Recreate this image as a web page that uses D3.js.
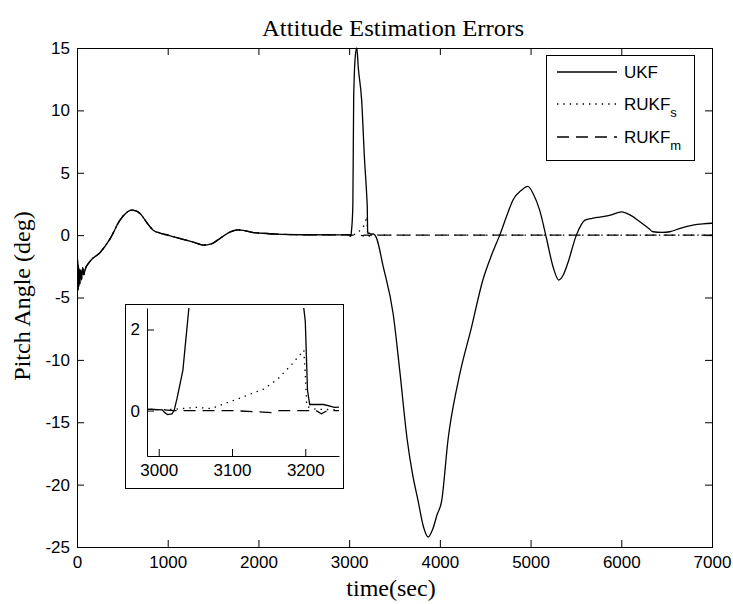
<!DOCTYPE html>
<meta charset="utf-8">
<script src="https://cdnjs.cloudflare.com/ajax/libs/d3/7.8.5/d3.min.js"></script>
<style>
body { margin: 0; background: #fff; }
svg { display: block; }
.tick text { font-family: "Liberation Sans", Arial, sans-serif; font-size: 17px; fill: #000; }
.tick line { stroke: #000; }
.lab { font-family: "Liberation Serif", "Times New Roman", serif; font-size: 24px; fill: #000; }
.leg { font-family: "Liberation Sans", Arial, sans-serif; font-size: 17px; fill: #000; }
path.line { fill: none; stroke: #000; stroke-width: 1.3px; }
.dotted { stroke-dasharray: 1.4, 5; }
.dashed { stroke-dasharray: 12, 7; }
</style>
<body>
<script>

// Pitch angle error (deg) vs time (sec).
// All three filters track each other until the fault at ~3000 s.
var earlyPart = [
  [0, -1.5], [4, -4.6], [8, -2.0], [12, -4.4], [16, -2.4], [20, -4.1], [25, -2.7],
  [30, -3.9], [40, -2.8], [50, -3.6], [62, -2.6], [75, -3.2], [88, -2.8], [143, -2.1],
  [254, -1.4], [364, -0.3], [474, 1.2], [530, 1.7], [600, 2.0], [650, 1.95],
  [700, 1.7], [770, 1.0], [840, 0.4], [920, 0.15], [1000, 0.0], [1100, -0.2],
  [1200, -0.4], [1300, -0.6], [1390, -0.8], [1480, -0.7], [1560, -0.35], [1650, 0.1],
  [1720, 0.35], [1780, 0.42], [1850, 0.35], [1950, 0.2], [2050, 0.15], [2200, 0.08],
  [2500, 0.03], [2900, 0.02], [2990, 0.03], [3005, 0.02]
];

var ukfTail = [
  [3008, -0.05], [3012, -0.1], [3018, -0.08], [3021, 0.0], [3025, 0.3], [3033, 1.0],
  [3041, 2.5], [3050, 11.0], [3070, 14.5], [3085, 15.0], [3100, 13.5], [3138, 10.8],
  [3170, 6.0], [3195, 3.0], [3200, 2.2], [3203, 0.5], [3206, 0.15], [3225, 0.15],
  [3240, 0.08], [3264, 0.1], [3300, -0.2], [3375, -2.5], [3485, -6.3], [3560, -11.0],
  [3640, -16.4], [3700, -19.2], [3760, -21.3], [3820, -23.4], [3870, -24.2],
  [3920, -23.6], [3970, -22.4], [4020, -21.3], [4090, -16.4], [4200, -11.8],
  [4350, -7.35], [4474, -3.6], [4570, -1.6], [4660, 0.0], [4750, 1.8], [4805, 2.8],
  [4900, 3.6], [4970, 3.9], [5030, 3.3], [5100, 2.0], [5175, -0.25], [5250, -2.6],
  [5310, -3.6], [5360, -3.2], [5410, -2.25], [5505, 0.0], [5600, 1.2], [5680, 1.35],
  [5765, 1.45], [5880, 1.6], [6003, 1.87], [6100, 1.6], [6205, 1.07], [6300, 0.55],
  [6350, 0.27], [6450, 0.22], [6535, 0.27], [6650, 0.55], [6790, 0.8], [6900, 0.9],
  [7000, 0.95]
];

var rukfsTail = [
  [3020, 0.03], [3050, 0.08], [3072, 0.05], [3099, 0.23], [3111, 0.31], [3143, 0.53],
  [3162, 0.77], [3182, 1.15], [3198, 1.49], [3200, 0.9], [3202, 0.1], [3215, 0.03],
  [3300, 0.01], [4000, 0.0], [5000, 0.0], [6000, 0.0], [7000, 0.0]
];

var rukfmTail = [
  [3020, 0.0], [3100, 0.0], [3155, -0.05], [3165, 0.0], [3215, 0.0], [3222, -0.08],
  [3230, 0.0], [4000, 0.0], [5000, 0.0], [6000, 0.0], [7000, 0.0]
];

var xTicks = [0, 1000, 2000, 3000, 4000, 5000, 6000, 7000];
var yTicks = [-25, -20, -15, -10, -5, 0, 5, 10, 15];
var insetXTicks = [3000, 3100, 3200];
var insetYTicks = [0, 2];

var series = [
  { name: "UKF", sub: "", cls: "solid", values: earlyPart.concat(ukfTail) },
  { name: "RUKF", sub: "s", cls: "dotted", values: earlyPart.concat(rukfsTail) },
  { name: "RUKF", sub: "m", cls: "dashed", values: earlyPart.concat(rukfmTail) }
];

var width = 733, height = 604;
var svg = d3.select("body").append("svg")
    .attr("width", width)
    .attr("height", height);

// main axes box
var mLeft = 77, mRight = 712, mTop = 48, mBottom = 547;
// plain hyphen minus, like the original
var fmt = function(d) { return String(d); };

var x = d3.scaleLinear().domain([0, 7000]).range([mLeft, mRight]);
var y = d3.scaleLinear().domain([-25, 15]).range([mBottom, mTop]);

var defs = svg.append("defs");
defs.append("clipPath").attr("id", "mainClip")
  .append("rect")
    .attr("x", mLeft).attr("y", mTop - 1)
    .attr("width", mRight - mLeft).attr("height", mBottom - mTop + 2);

svg.append("g").attr("transform", "translate(0," + mBottom + ")")
    .call(d3.axisBottom(x).tickValues(xTicks).tickFormat(fmt).tickSize(-7).tickPadding(9));
svg.append("g").attr("transform", "translate(0," + mTop + ")")
    .call(d3.axisTop(x).tickValues(xTicks).tickSize(-7).tickFormat(""));
svg.append("g").attr("transform", "translate(" + mLeft + ",0)")
    .call(d3.axisLeft(y).tickValues(yTicks).tickFormat(fmt).tickSize(-7).tickPadding(7));
svg.append("g").attr("transform", "translate(" + mRight + ",0)")
    .call(d3.axisRight(y).tickValues(yTicks).tickSize(-7).tickFormat(""));
svg.selectAll(".domain").remove();

svg.append("rect")
    .attr("x", mLeft + 0.5).attr("y", mTop + 0.5)
    .attr("width", mRight - mLeft).attr("height", mBottom - mTop)
    .attr("fill", "none").attr("stroke", "#000");

var line = d3.line()
    .curve(d3.curveMonotoneX)
    .x(function(d) { return x(d[0]); })
    .y(function(d) { return y(d[1]); });

svg.append("g").attr("clip-path", "url(#mainClip)")
  .selectAll("path")
    .data(series)
  .enter().append("path")
    .attr("class", function(d) { return "line " + d.cls; })
    .attr("d", function(d) { return line(d.values); });

// title and labels
svg.append("text").attr("class", "lab")
    .attr("x", 393).attr("y", 36)
    .attr("text-anchor", "middle")
    .attr("font-size", 22)
    .attr("textLength", 262).attr("lengthAdjust", "spacingAndGlyphs")
    .text("Attitude Estimation Errors");

svg.append("text").attr("class", "lab")
    .attr("x", 391).attr("y", 596)
    .attr("text-anchor", "middle")
    .text("time(sec)");

svg.append("text").attr("class", "lab")
    .attr("transform", "translate(30,296) rotate(-90)")
    .attr("text-anchor", "middle")
    .text("Pitch Angle (deg)");

// legend
var legend = svg.append("g");
legend.append("rect")
    .attr("x", 546.5).attr("y", 55.5)
    .attr("width", 148).attr("height", 105)
    .attr("fill", "#fff").attr("stroke", "#000");

var legendY = [72, 104, 137];
var entry = legend.selectAll("g.entry")
    .data(series)
  .enter().append("g")
    .attr("class", "entry")
    .attr("transform", function(d, i) { return "translate(0," + legendY[i] + ")"; });

entry.append("path")
    .attr("class", function(d) { return "line " + d.cls; })
    .attr("d", "M557,0H617");

var lt = entry.append("text").attr("class", "leg")
    .attr("x", 624).attr("y", 6);
lt.append("tspan").text(function(d) { return d.name; });
lt.append("tspan")
    .attr("dy", 7)
    .attr("font-size", 13)
    .text(function(d) { return d.sub; });

// inset zoom on the fault
var inset = svg.append("g");
inset.append("rect")
    .attr("x", 125.5).attr("y", 304.5)
    .attr("width", 218).attr("height", 184)
    .attr("fill", "#fff").attr("stroke", "#000");

var iLeft = 147, iRight = 339, iTop = 308, iBottom = 456;
var ix = d3.scaleLinear().domain([2984, 3246]).range([iLeft, iRight]);
var iy = d3.scaleLinear().domain([-1.12, 2.53]).range([iBottom, iTop]);

defs.append("clipPath").attr("id", "insetClip")
  .append("rect")
    .attr("x", iLeft).attr("y", iTop)
    .attr("width", iRight - iLeft).attr("height", iBottom - iTop);

inset.append("g").attr("transform", "translate(0," + iBottom + ")")
    .call(d3.axisBottom(ix).tickValues(insetXTicks).tickFormat(fmt).tickSize(-7).tickSizeOuter(0).tickPadding(8));
inset.append("g").attr("transform", "translate(" + iLeft + ",0)")
    .call(d3.axisLeft(iy).tickValues(insetYTicks).tickFormat(fmt).tickSize(-7).tickSizeOuter(0).tickPadding(7));
inset.selectAll(".domain").attr("stroke", "#000");

var iline = d3.line()
    .x(function(d) { return ix(d[0]); })
    .y(function(d) { return iy(d[1]); });

inset.append("g").attr("clip-path", "url(#insetClip)")
  .selectAll("path")
    .data(series)
  .enter().append("path")
    .attr("class", function(d) { return "line " + d.cls; })
    .attr("d", function(d) { return iline(d.values); });

</script>
